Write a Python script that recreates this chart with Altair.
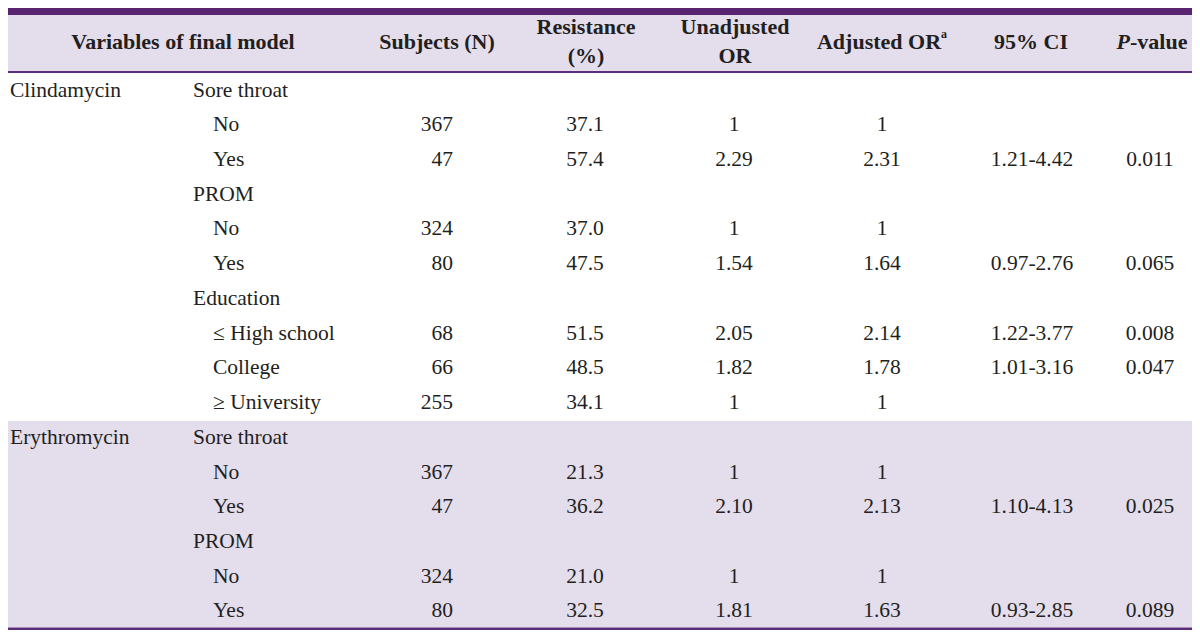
import altair as alt
import pandas as pd

# ---------------- data ----------------
drug = ["Clindamycin", "", "", "", "", "", "", "", "", "",
        "Erythromycin", "", "", "", "", ""]
variable = ["Sore throat", "", "", "PROM", "", "", "Education", "", "", "",
            "Sore throat", "", "", "PROM", "", ""]
level = ["", "No", "Yes", "", "No", "Yes", "", "\u2264 High school", "\u00a0College", "\u2265 University",
         "", "No", "Yes", "", "No", "Yes"]
subjects = ["", "367", "47", "", "324", "80", "", "68", "66", "255",
            "", "367", "47", "", "324", "80"]
resistance = ["", "37.1", "57.4", "", "37.0", "47.5", "", "51.5", "48.5", "34.1",
              "", "21.3", "36.2", "", "21.0", "32.5"]
unadjusted_or = ["", "1", "2.29", "", "1", "1.54", "", "2.05", "1.82", "1",
                 "", "1", "2.10", "", "1", "1.81"]
adjusted_or = ["", "1", "2.31", "", "1", "1.64", "", "2.14", "1.78", "1",
               "", "1", "2.13", "", "1", "1.63"]
ci95 = ["", "", "1.21-4.42", "", "", "0.97-2.76", "", "1.22-3.77", "1.01-3.16", "",
        "", "", "1.10-4.13", "", "", "0.93-2.85"]
p_value = ["", "", "0.011", "", "", "0.065", "", "0.008", "0.047", "",
           "", "", "0.025", "", "", "0.089"]

header_labels = ["Variables of final model", "Subjects (N)", "Resistance", "(%)",
                 "Unadjusted", "OR", "Adjusted OR", "a", "95% CI", "P", "-value"]

# ---------------- styles / layout ----------------
W, H = 1184, 622          # chart size (page margin 8px)
M = 8
ROW0_Y = 90.5             # page y of first body row centre
ROW_STEP = 34.73
FONT = "Liberation Serif"
TXT = "#231f20"
DARK = "#58236f"
LINE = "#5d2d7c"
LAV = "#e3ddec"
FS = 21.5
HFS = 22

def r(py):
    return (py - ROW0_Y) / ROW_STEP

col_x = {"drug": 10, "variable": 193, "level": 213, "subjects": 453,
         "resistance": 585, "unadj": 734, "adj": 882, "ci": 1032, "p": 1150}
col_align = {"drug": "left", "variable": "left", "level": "left", "subjects": "right",
             "resistance": "center", "unadj": "center", "adj": "center", "ci": "center",
             "p": "center"}

cols = {"drug": drug, "variable": variable, "level": level, "subjects": subjects,
        "resistance": resistance, "unadj": unadjusted_or, "adj": adjusted_or,
        "ci": ci95, "p": p_value}

recs = []
for key, vals in cols.items():
    for i, v in enumerate(vals):
        if v:
            recs.append({"row": i, "text": v, "xpos": col_x[key], "align": col_align[key]})
body = pd.DataFrame(recs)

# header placement (style)
hdr_pos = [
    (183, 42, "center", "normal", HFS),
    (437, 42, "center", "normal", HFS),
    (586, 27, "center", "normal", HFS),
    (586, 56, "center", "normal", HFS),
    (735, 27, "center", "normal", HFS),
    (735, 56, "center", "normal", HFS),
    (879, 42, "center", "normal", HFS),
    (941, 34, "left", "normal", 12),
    (1031, 42, "center", "normal", HFS),
    (1130, 42, "right", "italic", HFS),
    (1130, 42, "left", "normal", HFS),
]
hdr = pd.DataFrame([{"text": t, "xpos": p[0], "row": r(p[1]), "align": p[2],
                     "style": p[3], "size": p[4]} for t, p in zip(header_labels, hdr_pos)])

bands = pd.DataFrame([
    {"x1": 3, "x2": 1197, "y1": r(4), "y2": r(15), "c": DARK},
    {"x1": 3, "x2": 1197, "y1": r(15), "y2": r(71), "c": LAV},
    {"x1": 3, "x2": 1197, "y1": r(71), "y2": r(73), "c": LINE},
    {"x1": 3, "x2": 1197, "y1": r(421), "y2": r(627.5), "c": LAV},
    {"x1": 3, "x2": 1197, "y1": r(627.5), "y2": r(630), "c": LINE},
])

xs = alt.Scale(domain=[M, M + W], nice=False, zero=False, clamp=True)
ys = alt.Scale(domain=[r(M), r(M + H)], nice=False, zero=False, reverse=True, clamp=True)

rects = alt.Chart(bands).mark_rect().encode(
    x=alt.X("x1:Q", scale=xs, axis=None),
    x2="x2:Q",
    y=alt.Y("y1:Q", scale=ys, axis=None),
    y2="y2:Q",
    color=alt.Color("c:N", scale=None),
)

layers = [rects]
for al in ["left", "right", "center"]:
    sub = body[body["align"] == al]
    layers.append(
        alt.Chart(sub).mark_text(align=al, baseline="middle", font=FONT, fontSize=FS, color=TXT)
        .encode(x=alt.X("xpos:Q", scale=xs, axis=None),
                y=alt.Y("row:Q", scale=ys, axis=None),
                text="text:N")
    )

for (al, st, sz), sub in hdr.groupby(["align", "style", "size"]):
    layers.append(
        alt.Chart(sub).mark_text(align=al, baseline="middle", font=FONT, fontSize=int(sz),
                                 fontWeight="bold", fontStyle=st, color=TXT)
        .encode(x=alt.X("xpos:Q", scale=xs, axis=None),
                y=alt.Y("row:Q", scale=ys, axis=None),
                text="text:N")
    )

chart = alt.layer(*layers).properties(
    width=W, height=H,
    autosize=alt.AutoSizeParams(type="none"),
    padding={"left": 0, "right": 0, "top": 0, "bottom": 0},
    background="white",
).configure_view(stroke=None)

chart.save("out.html", embed_options={"renderer": "svg", "actions": False})
